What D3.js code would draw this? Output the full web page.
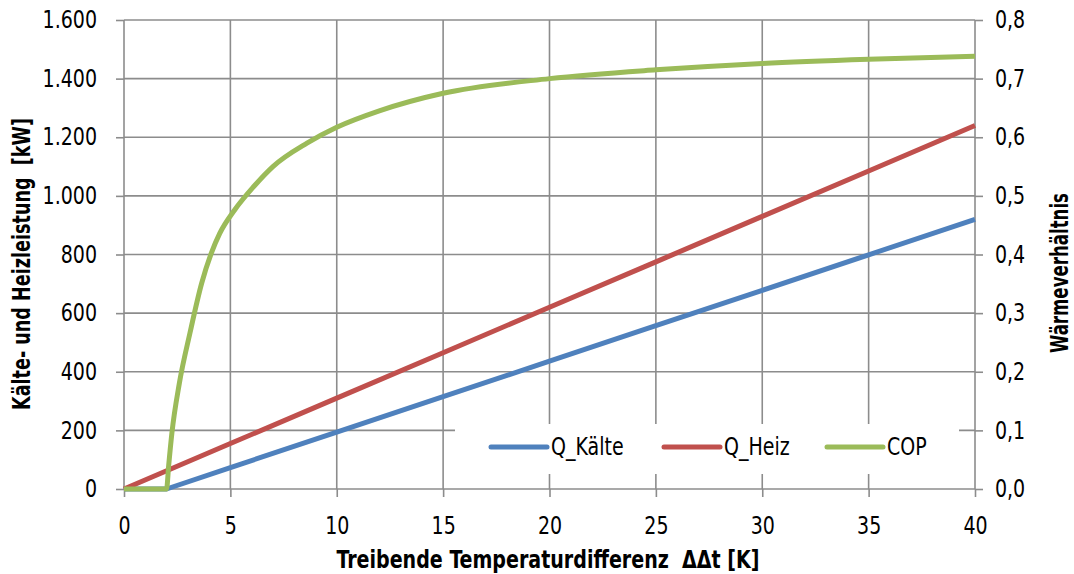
<!DOCTYPE html>
<html>
<head>
<meta charset="utf-8">
<script src="https://cdn.jsdelivr.net/npm/d3@7"></script>
<style>
  html, body { margin: 0; padding: 0; background: #fff; }
  svg { display: block; }
  text { font-family: "DejaVu Sans Condensed", "Liberation Sans Narrow", sans-serif; fill: #000; white-space: pre; }
</style>
</head>
<body>
<svg id="chart" width="1074" height="574"></svg>
<script>
// ---- data ----
const dtQ = [0, 2, 5, 10, 15, 20, 25, 30, 35, 40];
const qKaelte = [0, 0, 73, 194, 315, 436, 557, 678, 799, 920];
const dtHeiz = [0, 5, 10, 15, 20, 25, 30, 35, 40];
const qHeiz = [0, 155, 310, 465, 620, 775, 930, 1085, 1240];
const dtCOP = [0, 2, 2.1, 2.25, 2.6, 3.1, 3.65, 4.1, 4.5, 5.2, 6.1, 7, 8.6, 10, 12, 15, 20, 25, 30, 35, 40];
const cop = [0, 0, 0.04, 0.095, 0.18, 0.266, 0.351, 0.402, 0.436, 0.476, 0.516, 0.55, 0.59, 0.617, 0.645, 0.675, 0.7, 0.715, 0.726, 0.733, 0.738];
const xTicks = [0, 5, 10, 15, 20, 25, 30, 35, 40];
const yLeftTicks = [0, 200, 400, 600, 800, 1000, 1200, 1400, 1600];
const yRightTicks = [0, 0.1, 0.2, 0.3, 0.4, 0.5, 0.6, 0.7, 0.8];
const seriesNames = ["Q_Kälte", "Q_Heiz", "COP"];
const xTitle = "Treibende Temperaturdifferenz  ΔΔt [K]";
const yLeftTitle = "Kälte- und Heizleistung  [kW]";
const yRightTitle = "Wärmeverhältnis";

// ---- layout ----
const colors = ["#4F81BD", "#C0504D", "#9BBB59"];
const pLeft = 124, pRight = 975, pTop = 20, pBottom = 489;
const gridColor = "#8c8c8c";

const svg = d3.select("#chart");
const x = d3.scaleLinear().domain([0, 40]).range([pLeft, pRight]);
const yL = d3.scaleLinear().domain([0, 1600]).range([pBottom, pTop]);
const yR = d3.scaleLinear().domain([0, 0.8]).range([pBottom, pTop]);

const deFmt0 = d => d3.format(",")(d).replace(/,/g, ".");
const deFmt1 = d => d3.format(".1f")(d).replace(".", ",");

// grid
const grid = svg.append("g");
grid.selectAll("line.h").data(yLeftTicks).join("line")
  .attr("x1", pLeft).attr("x2", pRight)
  .attr("y1", d => yL(d)).attr("y2", d => yL(d))
  .attr("stroke", gridColor).attr("stroke-width", 1.6);
grid.selectAll("line.v").data(xTicks).join("line")
  .attr("x1", d => x(d)).attr("x2", d => x(d))
  .attr("y1", pTop).attr("y2", pBottom)
  .attr("stroke", gridColor).attr("stroke-width", 1.6);

// axes
const axisStyle = g => {
  g.select(".domain").remove();
  g.selectAll(".tick line").attr("stroke", gridColor).attr("stroke-width", 1.6);
  g.selectAll(".tick text").attr("font-size", 24).attr("fill", "#000")
    .attr("font-family", null).classed("cond", true);
};
svg.append("g").attr("transform", `translate(0,${pBottom})`)
  .call(d3.axisBottom(x).tickValues(xTicks).tickSize(8).tickPadding(20).tickFormat(d3.format("d")))
  .call(axisStyle);
svg.append("g").attr("transform", `translate(${pLeft},0)`)
  .call(d3.axisLeft(yL).tickValues(yLeftTicks).tickSize(8).tickPadding(19).tickFormat(deFmt0))
  .call(axisStyle);
svg.append("g").attr("transform", `translate(${pRight},0)`)
  .call(d3.axisRight(yR).tickValues(yRightTicks).tickSize(8).tickPadding(12).tickFormat(deFmt1))
  .call(axisStyle);

// lines
const mk = (xs, ys) => xs.map((v, i) => [v, ys[i]]);
const lineL = d3.line().x(d => x(d[0])).y(d => yL(d[1]));
const lineR = d3.line().x(d => x(d[0])).y(d => yR(d[1])).curve(d3.curveMonotoneX);
const plot = svg.append("g").attr("fill", "none").attr("stroke-width", 5).attr("stroke-linejoin", "round");
plot.append("path").attr("d", lineL(mk(dtQ, qKaelte))).attr("stroke", colors[0]);
plot.append("path").attr("d", lineL(mk(dtHeiz, qHeiz))).attr("stroke", colors[1]);
plot.append("path").attr("d", lineR(mk(dtCOP, cop))).attr("stroke", colors[2]);

// legend
const lg = svg.append("g");
lg.append("rect").attr("x", 455).attr("y", 424).attr("width", 504).attr("height", 50).attr("fill", "#fff");
const legX = [491, 664, 827];
seriesNames.forEach((n, i) => {
  lg.append("line").attr("x1", legX[i]).attr("x2", legX[i] + 56).attr("y1", 447).attr("y2", 447)
    .attr("stroke", colors[i]).attr("stroke-width", 5).attr("stroke-linecap", "round");
  lg.append("text").attr("class", "cond").attr("x", legX[i] + 60).attr("y", 447).attr("dy", "0.35em")
    .attr("font-size", 24).text(n);
});

// condense regular text horizontally
svg.selectAll("text.cond").each(function () {
  const w = this.getComputedTextLength();
  d3.select(this).attr("textLength", w * 0.88).attr("lengthAdjust", "spacingAndGlyphs");
});

// titles
svg.append("text").attr("x", 548).attr("y", 568).attr("text-anchor", "middle")
  .attr("font-size", 24).attr("font-weight", "bold").attr("textLength", 423).attr("lengthAdjust", "spacingAndGlyphs").text(xTitle);
svg.append("text").attr("transform", "translate(30,264) rotate(-90)").attr("text-anchor", "middle")
  .attr("font-size", 24).attr("font-weight", "bold").attr("textLength", 292).attr("lengthAdjust", "spacingAndGlyphs").text(yLeftTitle);
svg.append("text").attr("transform", "translate(1068,273) rotate(-90)").attr("text-anchor", "middle")
  .attr("font-size", 24).attr("font-weight", "bold").attr("textLength", 160).attr("lengthAdjust", "spacingAndGlyphs").text(yRightTitle);
</script>
</body>
</html>
